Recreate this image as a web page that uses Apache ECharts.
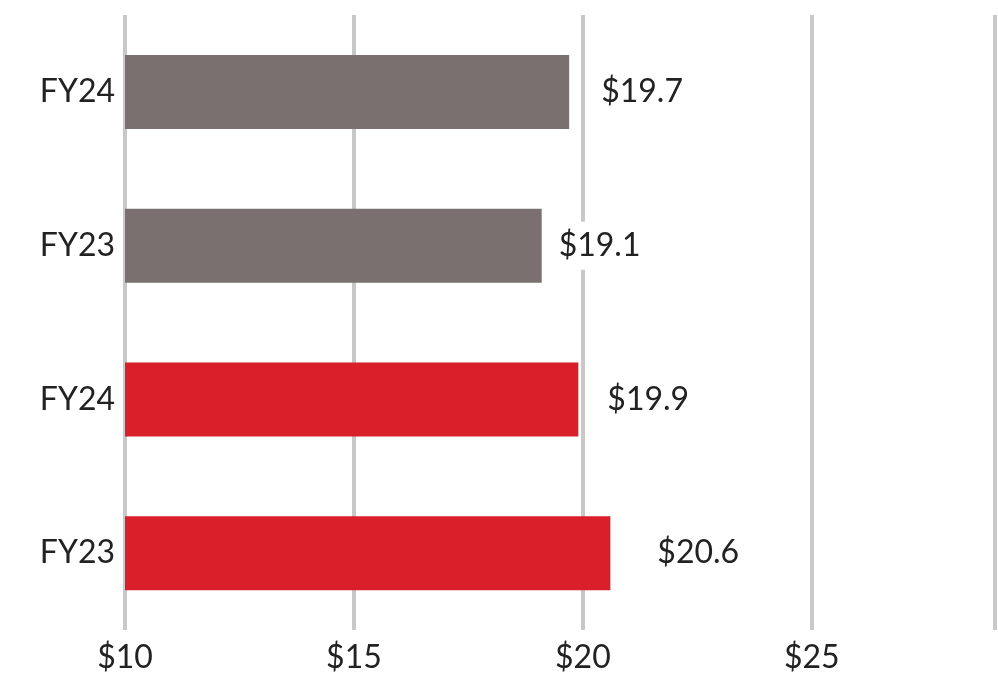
<!DOCTYPE html>
<html><head><meta charset="utf-8">
<script src="https://cdn.jsdelivr.net/npm/echarts@6/dist/echarts.min.js"></script>
<style>html,body{margin:0;padding:0;background:#fff}#c{width:998px;height:675px}</style>
</head><body><div id="c"></div>
<script>
const categories = ['FY23', 'FY24', 'FY23', 'FY24'];
const values = [20.6, 19.9, 19.1, 19.7];
const barColors = ['#d81f2a', '#d81f2a', '#7a7070', '#7a7070'];
const labelGaps = [47, 29, 17, 32];
const tickLabels = ['$10', '$15', '$20', '$25'];
const chart = echarts.init(document.getElementById('c'));
chart.setOption({
  animation: false,
  grid: {left: 125, right: 0, top: 15, bottom: 45, containLabel: false},
  xAxis: {type: 'value', min: 10, max: 29, interval: 5,
    axisLine: {show: false}, axisTick: {show: false},
    splitLine: {show: true, lineStyle: {color: '#c8c8c8', width: 4}},
    axisLabel: {fontSize: 32, color: '#222', fontFamily: 'Lato', margin: 12,
      formatter: v => { const i = (v - 10) / 5; return Number.isInteger(i) && i < tickLabels.length ? tickLabels[i] : ''; }}},
  yAxis: {type: 'category', data: categories,
    axisLine: {show: false}, axisTick: {show: false},
    axisLabel: {fontSize: 32, color: '#222', fontFamily: 'Lato', margin: 10}},
  series: [{type: 'bar', barWidth: 74,
    data: values.map((v, i) => ({value: v, itemStyle: {color: barColors[i]},
      label: {show: true, position: 'right', distance: labelGaps[i] - 6,
        formatter: '$' + v.toFixed(1), fontSize: 32, color: '#222', fontFamily: 'Lato',
        backgroundColor: '#fff', padding: [8, 6]}}))}]
});
</script></body></html>
